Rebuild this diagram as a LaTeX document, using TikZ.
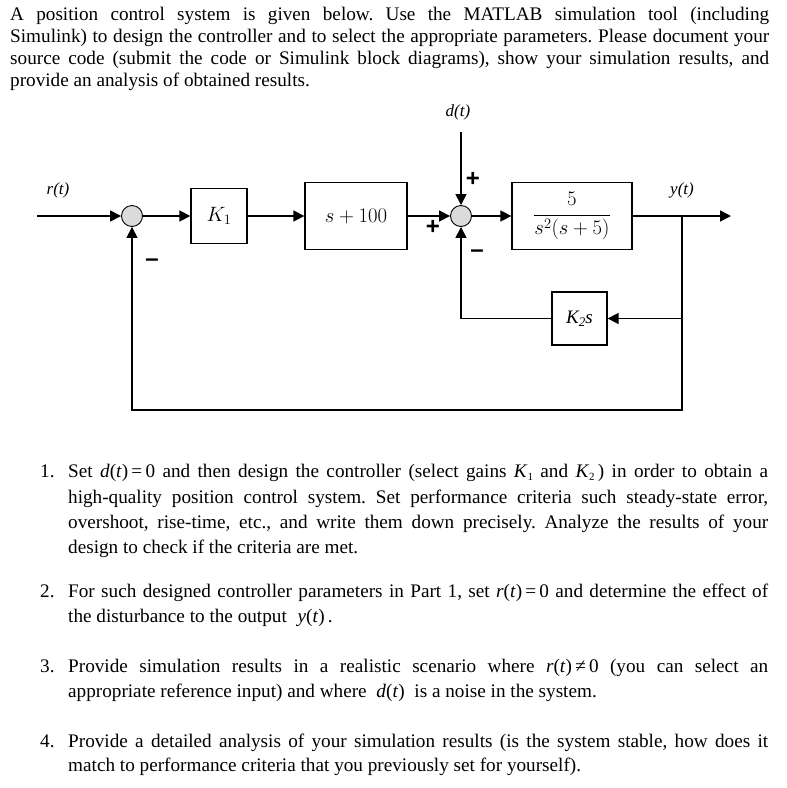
\documentclass[tikz,border=0pt]{standalone}
\usepackage{fontspec}
\setmainfont{Liberation Serif}
\newfontfamily\sgnfont{Liberation Sans}
\usetikzlibrary{arrows.meta}
\tikzset{
  blk/.style={draw, line width=1.3pt, inner sep=0pt},
  sumc/.style={circle, draw, line width=0.9pt, fill=gray!28, minimum size=21pt, inner sep=0pt},
  sig/.style={line width=1.6pt, -{Triangle[length=11pt,width=11pt]}},
  wire/.style={line width=1.6pt},
  lbl/.style={font=\fontsize{17}{18}\selectfont\itshape, inner sep=0pt},
  sgn/.style={font=\fontsize{24}{24}\selectfont\sgnfont\bfseries, inner sep=0pt},
  mth/.style={font=\fontsize{19.5}{22}\selectfont},
  txt/.style={anchor=base west, inner sep=0pt, font=\fontsize{19.2}{22}\selectfont\frenchspacing},
}
\newcommand{\subK}[1]{\textit{K}\raisebox{-0.45ex}{\fontsize{11}{11}\selectfont #1}}
\begin{document}
\begin{tikzpicture}[x=1pt,y=-1pt]
\useasboundingbox (0,0) rectangle (787,788);
\fill[white] (0,0) rectangle (787,788);

% intro text
\node[txt] (t1) at (10,20) {\makebox[759pt][s]{A position control system is given below. Use the MATLAB simulation tool (including}};
\node[txt] (t2) at (10,42) {\makebox[759pt][s]{Simulink) to design the controller and to select the appropriate parameters. Please document your}};
\node[txt] (t3) at (10,64) {\makebox[759pt][s]{source code (submit the code or Simulink block diagrams), show your simulation results, and}};
\node[txt] (t4) at (10,86) {provide an analysis of obtained results.};

% diagram
\node[sumc] (s1) at (132,216) {};
\node[sumc] (s2) at (461,216) {};
\node[blk, minimum width=56pt, minimum height=55pt, mth] (k1) at (219,216) {$K_1$};
\node[blk, minimum width=102pt, minimum height=67pt, mth] (p1) at (356,216) {$s+100$};
\node[blk, minimum width=120pt, minimum height=67pt, mth] (g) at (572,216) {$\displaystyle\frac{5}{s^2(s+5)}$};
\node[blk, minimum width=55pt, minimum height=53pt, lbl, font=\fontsize{19}{22}\selectfont\itshape] (k2) at (579.5,318.5) {K\raisebox{-0.35ex}{\fontsize{13}{13}\selectfont 2}s};

\coordinate (in) at (37,216);
\coordinate (dtop) at (461,132);
\coordinate (br) at (682,216);
\coordinate (out) at (731,216);
\coordinate (bb) at (682,410);
\coordinate (bk) at (682,318.5);

\draw[sig] (in) -- (s1);
\draw[sig] (s1) -- (k1);
\draw[sig] (k1) -- (p1);
\draw[sig] (p1) -- (s2);
\draw[sig] (dtop) -- (s2);
\draw[sig] (s2) -- (g);
\draw[sig] (g) -- (out);
\draw[sig] (br) -- (bb) -| (s1);
\draw[sig] (bk) -- (k2);
\draw[sig] (k2) -| (s2);

\node[lbl] (rl) at (58,190) {r(t)};
\node[lbl] (dl) at (458,112) {d(t)};
\node[lbl] (yl) at (682,190) {y(t)};

\node[sgn] (m1) at (152,263) {–};
\node[sgn] (pl2) at (473,179) {+};
\node[sgn] (pl3) at (433,227) {+};
\node[sgn] (m4) at (477,254) {–};

% items
\node[txt] (n1) at (40,477) {1.};
\node[txt] (i1a) at (68,477) {\makebox[700pt][s]{Set \textit{d}(\textit{t})\,=\,0 and then design the controller (select gains \subK{1} and \subK{2}\,) in order to obtain a}};
\node[txt] (i1b) at (68,503) {\makebox[700pt][s]{high-quality position control system. Set performance criteria such steady-state error,}};
\node[txt] (i1c) at (68,528) {\makebox[700pt][s]{overshoot, rise-time, etc., and write them down precisely. Analyze the results of your}};
\node[txt] (i1d) at (68,553) {design to check if the criteria are met.};

\node[txt] (n2) at (40,597) {2.};
\node[txt] (i2a) at (68,597) {\makebox[700pt][s]{For such designed controller parameters in Part 1, set \textit{r}(\textit{t})\,=\,0 and determine the effect of}};
\node[txt] (i2b) at (68,622) {the disturbance to the output\hspace{6pt} \textit{y}(\textit{t})\,.};

\node[txt] (n3) at (40,672) {3.};
\node[txt] (i3a) at (68,672) {\makebox[700pt][s]{Provide simulation results in a realistic scenario where \textit{r}(\textit{t})\,≠\,0 (you can select an}};
\node[txt] (i3b) at (68,697) {appropriate reference input) and where\hspace{5pt} \textit{d}(\textit{t})\hspace{5pt} is a noise in the system.};

\node[txt] (n4) at (40,747) {4.};
\node[txt] (i4a) at (68,747) {\makebox[700pt][s]{Provide a detailed analysis of your simulation results (is the system stable, how does it}};
\node[txt] (i4b) at (68,771) {match to performance criteria that you previously set for yourself).};
\end{tikzpicture}
\end{document}
